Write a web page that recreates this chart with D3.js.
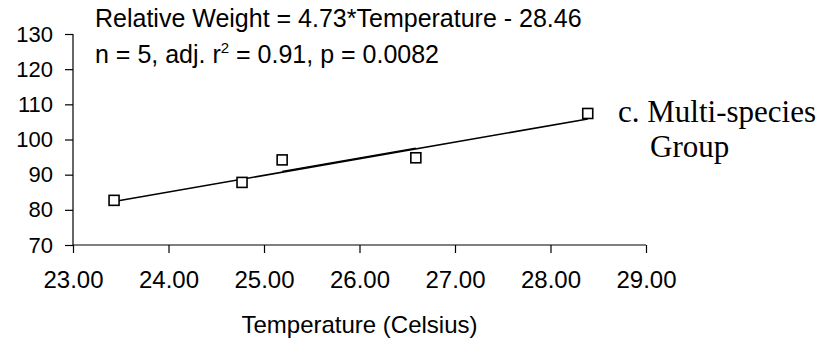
<!DOCTYPE html>
<html>
<head>
<meta charset="utf-8">
<script src="https://cdn.jsdelivr.net/npm/d3@7"></script>
<style>
  body { margin: 0; background: #fff; }
  svg { display: block; }
</style>
</head>
<body>
<svg id="chart" width="826" height="345"></svg>
<script>
// values
let temperature = [23.43, 24.77, 25.19, 26.59, 28.39];
let relWeight = [82.7, 87.8, 94.2, 94.8, 107.4];
let xTicks = [23, 24, 25, 26, 27, 28, 29];
let yTicks = [70, 80, 90, 100, 110, 120, 130];
let slope = 4.73;
let intercept = -28.46;

let margin = {top: 34, right: 180, bottom: 100, left: 73};
let width = 826 - margin.left - margin.right;
let height = 345 - margin.top - margin.bottom;

let svg = d3.select('#chart');
let g = svg.append('g')
    .attr('transform', 'translate(' + margin.left + ',' + margin.top + ')');

let xScale = d3.scaleLinear().domain([23, 29]).range([0, width]);
let yScale = d3.scaleLinear().domain([70, 130]).range([height, 0]);

let xAxis = d3.axisBottom(xScale)
    .tickValues(xTicks)
    .tickFormat(d3.format('.2f'))
    .tickSize(8)
    .tickPadding(18);
let yAxis = d3.axisLeft(yScale)
    .tickValues(yTicks)
    .tickSize(8)
    .tickPadding(12);

g.append('g')
    .attr('class', 'x-axis')
    .attr('transform', 'translate(0,' + height + ')')
    .call(xAxis);
g.append('g')
    .attr('class', 'y-axis')
    .call(yAxis);

svg.selectAll('.domain').attr('stroke', '#000').attr('stroke-width', 1.2);
svg.selectAll('.tick line').attr('stroke', '#000').attr('stroke-width', 1.2);
svg.selectAll('.x-axis text')
    .attr('font-family', 'Liberation Sans, Arial, sans-serif')
    .attr('font-size', 24)
    .attr('fill', '#000');
svg.selectAll('.y-axis text')
    .attr('font-family', 'Liberation Sans, Arial, sans-serif')
    .attr('font-size', 22)
    .attr('fill', '#000');
svg.selectAll('.domain').attr('d', function(){
    return d3.select(this.parentNode).classed('x-axis')
        ? 'M0,0H' + width
        : 'M0,0V' + height;
});

// fit line
let fit = t => slope * t + intercept;
let tMin = d3.min(temperature), tMax = d3.max(temperature);
g.append('line')
    .attr('x1', xScale(tMin)).attr('y1', yScale(fit(tMin)))
    .attr('x2', xScale(tMax)).attr('y2', yScale(fit(tMax)))
    .attr('stroke', '#000')
    .attr('stroke-width', 1.6);
// the slightly doubled stretch between the middle points
g.append('line')
    .attr('x1', xScale(temperature[2])).attr('y1', yScale(fit(temperature[2])) - 0.8)
    .attr('x2', xScale(temperature[3])).attr('y2', yScale(fit(temperature[3])) - 0.8)
    .attr('stroke', '#000')
    .attr('stroke-width', 1.2);

g.selectAll('.point')
    .data(temperature)
    .enter().append('rect')
    .attr('class', 'point')
    .attr('x', (d, i) => xScale(d) - 5)
    .attr('y', (d, i) => yScale(relWeight[i]) - 5)
    .attr('width', 10)
    .attr('height', 10)
    .attr('fill', '#fff')
    .attr('stroke', '#000')
    .attr('stroke-width', 1.6);

// equation text
let eq = svg.append('g')
    .attr('font-family', 'Liberation Sans, Arial, sans-serif')
    .attr('font-size', 25)
    .attr('fill', '#000');
eq.append('text')
    .attr('x', 95).attr('y', 27)
    .text('Relative Weight = ' + slope + '*Temperature - ' + Math.abs(intercept));
let stat = eq.append('text').attr('x', 95).attr('y', 63);
stat.append('tspan').text('n = 5, adj. r');
stat.append('tspan').attr('font-size', 15).attr('dy', -10).text('2');
stat.append('tspan').attr('dy', 10).text(' = 0.91, p = 0.0082');

// panel label
let lab = svg.append('g')
    .attr('font-family', 'Liberation Serif, Times New Roman, serif')
    .attr('font-size', 31)
    .attr('fill', '#000');
lab.append('text').attr('x', 618).attr('y', 122).text('c. Multi-species');
lab.append('text').attr('x', 650).attr('y', 157).text('Group');

// axis title
svg.append('text')
    .attr('x', margin.left + width / 2)
    .attr('y', 333)
    .attr('text-anchor', 'middle')
    .attr('font-family', 'Liberation Sans, Arial, sans-serif')
    .attr('font-size', 24)
    .attr('fill', '#000')
    .text('Temperature (Celsius)');
</script>
</body>
</html>
